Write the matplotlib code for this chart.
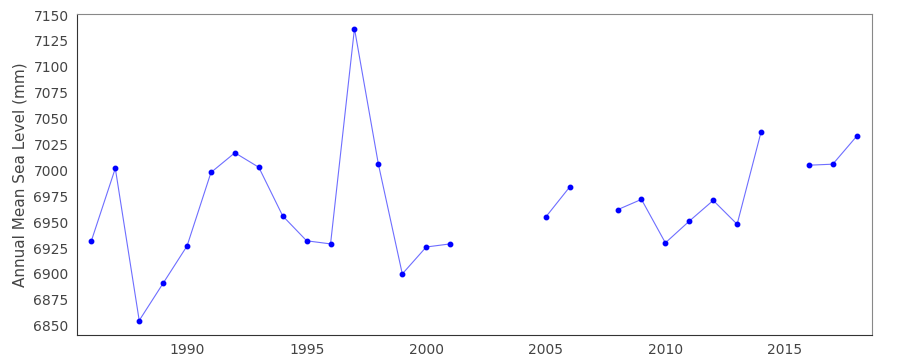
import numpy as np
import matplotlib
matplotlib.use('Agg')
import matplotlib.pyplot as plt

# annual mean sea level, NaN = missing year
years = list(range(1986, 2019))
sea_level = [6932, 7002, 6855, 6891, 6927, 6998, 7017, 7003, 6956, 6932,
             6929, 7137, 7006, 6900, 6926, 6929, np.nan, np.nan, np.nan, 6955,
             6984, np.nan, 6962, 6972, 6930, 6951, 6971, 6948, 7037, np.nan,
             7005, 7006, 7033]
y_ticks = list(range(6850, 7151, 25))
x_ticks = [1990, 1995, 2000, 2005, 2010, 2015]

fig = plt.figure(figsize=(9, 3.6), dpi=100)
ax = fig.add_axes([0.0856, 0.0694, 0.8833, 0.8916])

ax.plot(years, sea_level, color='#6e6eff', lw=0.8, zorder=2)
ax.plot(years, sea_level, ls='none', marker='o', ms=3.2, color='blue', zorder=3)

ax.set_xlim(1985.4, 2018.64)
ax.set_ylim(6841, 7151)
ax.set_yticks(y_ticks)
ax.set_xticks(x_ticks)
ax.tick_params(length=0, labelsize=10, colors='#444444', pad=6)
ax.set_ylabel('Annual Mean Sea Level (mm)', fontsize=11, color='#444444')

for side in ['left', 'bottom']:
    ax.spines[side].set_color('#333333')
for side in ['top', 'right']:
    ax.spines[side].set_color('#888888')

fig.savefig('out.png', dpi=100)
